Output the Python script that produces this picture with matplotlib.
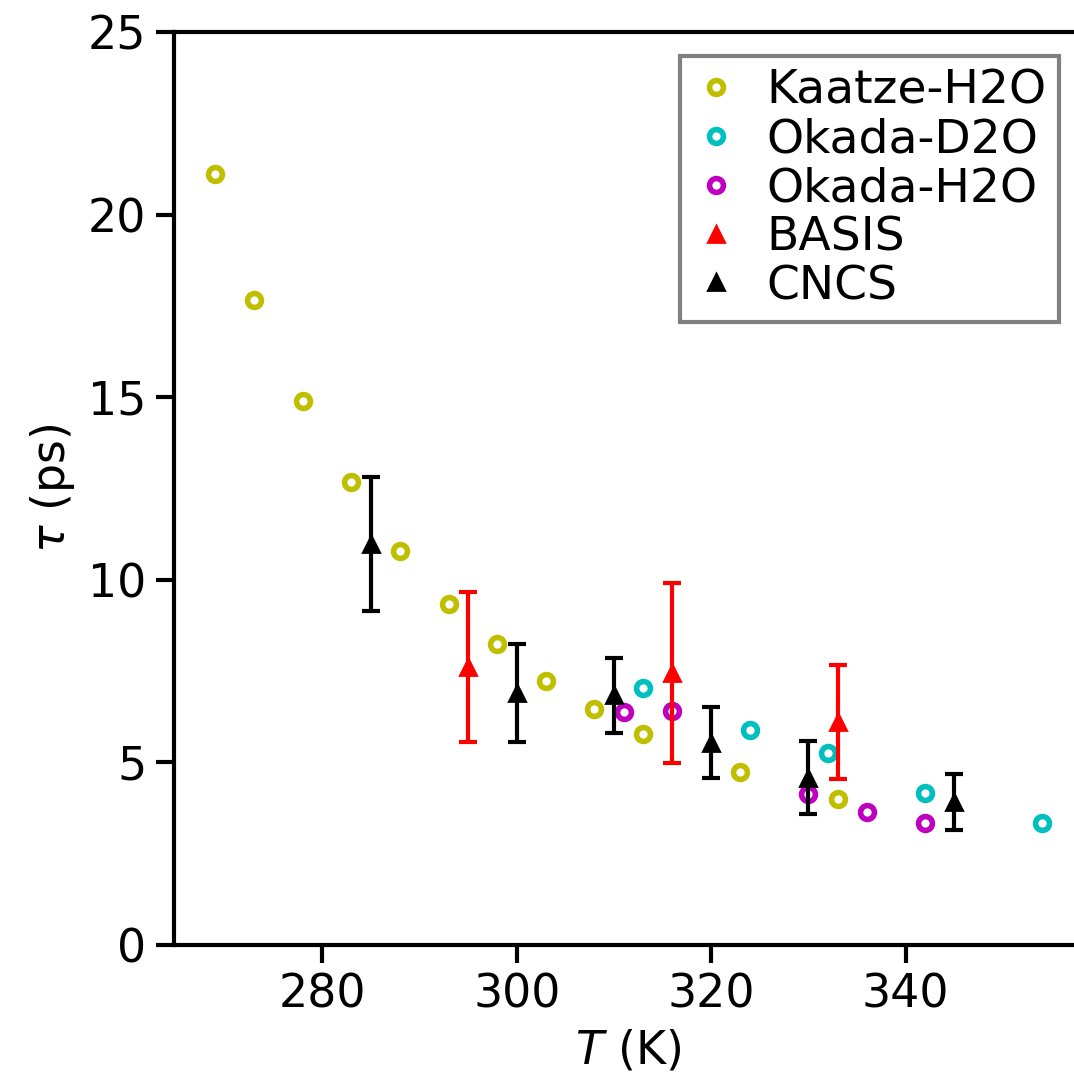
import matplotlib
matplotlib.use('Agg')
import matplotlib.pyplot as plt

# Dielectric relaxation (literature) vs. neutron scattering relaxation times
kaatze_T = [269, 273, 278, 283, 288, 293, 298, 303, 308, 313, 323, 333]
kaatze_tau = [21.1, 17.67, 14.9, 12.67, 10.79, 9.33, 8.25, 7.24, 6.47, 5.78, 4.73, 3.99]

okada_d2o_T = [313, 324, 332, 342, 354]
okada_d2o_tau = [7.05, 5.88, 5.26, 4.17, 3.35]

okada_h2o_T = [311, 316, 330, 336, 342]
okada_h2o_tau = [6.38, 6.40, 4.13, 3.64, 3.33]

basis_T = [295, 316, 333]
basis_tau = [7.62, 7.44, 6.11]
basis_err = [2.06, 2.46, 1.56]

cncs_T = [285, 300, 310, 320, 330, 345]
cncs_tau = [10.99, 6.89, 6.84, 5.54, 4.58, 3.92]
cncs_err = [1.83, 1.34, 1.03, 0.97, 1.00, 0.76]

plt.rcParams['font.size'] = 16.5
plt.rcParams['axes.linewidth'] = 1.5
plt.rcParams['xtick.major.width'] = 1.5
plt.rcParams['ytick.major.width'] = 1.5
plt.rcParams['xtick.major.size'] = 6.5
plt.rcParams['ytick.major.size'] = 6.5

fig = plt.figure(figsize=(5.37, 5.455), dpi=200)
ax = fig.add_axes([0.162, 0.1338, 0.8464, 0.8368])

circ = dict(ls='none', marker='o', ms=5, mew=2, mfc='none')
ax.plot(kaatze_T, kaatze_tau, mec='y', label='Kaatze-H2O', **circ)
ax.plot(okada_d2o_T, okada_d2o_tau, mec='c', label='Okada-D2O', **circ)
ax.plot(okada_h2o_T, okada_h2o_tau, mec='m', label='Okada-H2O', **circ)

ax.errorbar(basis_T, basis_tau, yerr=basis_err, fmt='none', ecolor='r',
            elinewidth=1.5, capsize=3.2, capthick=1.5)
ax.plot(basis_T, basis_tau, ls='none', marker='^', ms=6, color='r', label='BASIS')
ax.errorbar(cncs_T, cncs_tau, yerr=cncs_err, fmt='none', ecolor='k',
            elinewidth=1.5, capsize=3.2, capthick=1.5)
ax.plot(cncs_T, cncs_tau, ls='none', marker='^', ms=6, color='k', label='CNCS')

ax.set_ylim(0, 25)
ax.set_yticks([0, 5, 10, 15, 20, 25])
ax.set_xticks([280, 300, 320, 340])
ax.set_xlabel('$T$ (K)')
ax.set_ylabel(r'$\tau$ (ps)')

leg = ax.legend(loc='upper right', fancybox=False, framealpha=1, fontsize=17,
                labelspacing=0.08, borderpad=0.28, handlelength=1.0,
                handletextpad=0.55)
leg.get_frame().set_edgecolor('0.5')
leg.get_frame().set_linewidth(1.5)

fig.savefig('out.png', dpi=200)
